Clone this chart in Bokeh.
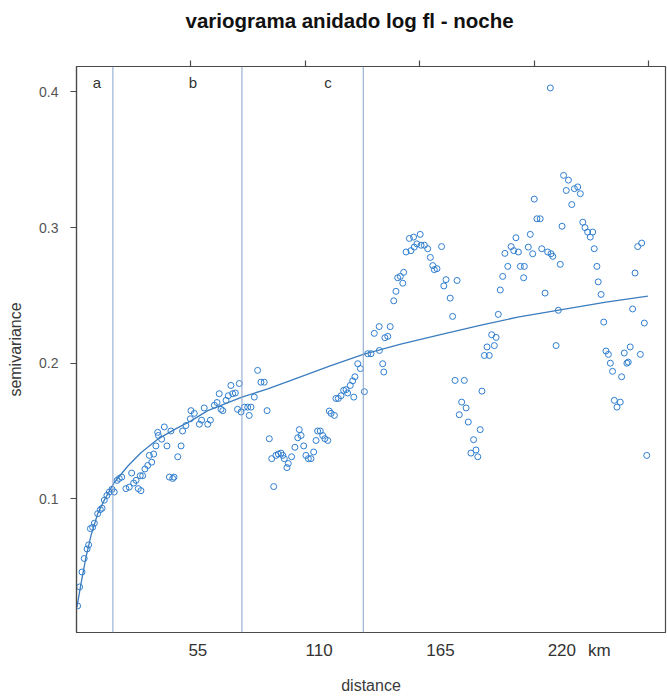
from bokeh.plotting import figure
from bokeh.models import Range1d, LinearAxis, FixedTicker, Span, Label, ColumnDataSource
from bokeh.embed import file_html
from bokeh.resources import INLINE

# empirical semivariogram (distance in km, semivariance)
dist = [0.5, 1.4, 2.5, 3.5, 4.8, 5.5, 6.3, 7.3, 8.1, 9.6, 10.8, 11.6, 12.6, 13.8, 14.9, 16.1, 17.1,
        18.4, 19.4, 20.5, 22.4, 23.9, 25.0, 25.9, 27.0, 28.0, 28.9,
        29.2, 30.0, 31.0, 32.3, 33.0, 34.1, 35.0, 36.0, 36.8, 37.1, 38.6, 39.8, 41.0, 42.1, 43.6, 44.2,
        42.8, 45.9, 47.4, 48.1, 49.6, 51.6, 51.9, 53.4, 55.7, 56.7, 57.9, 59.5, 60.7, 62.5, 63.7, 64.7,
        65.5, 66.3, 67.8, 68.8, 70.0, 70.8, 72.0, 73.0, 73.8, 74.6, 76.1, 77.6, 79.1, 78.3, 80.6, 82.1,
        83.6, 85.1, 86.4,
        87.4, 88.5, 89.4, 90.4, 91.5, 92.7, 93.5, 94.2, 95.4, 96.0, 97.5, 99.0, 100.3, 101.0, 101.8,
        103.0, 104.0, 105.1, 106.3, 107.5, 108.6, 109.3, 110.5, 111.6, 112.6, 113.9, 114.6, 115.4,
        116.9, 117.6, 118.7, 119.9, 121.1, 122.2, 122.9, 124.1, 125.7, 125.2, 126.2, 127.5, 128.7,
        130.5, 132.0, 133.5, 135.0, 137.3, 137.2,
        138.8, 139.3, 139.8, 141.1, 142.2, 143.8, 144.8, 145.6, 146.8, 147.9, 148.3, 149.4, 150.9,
        151.6, 152.8, 153.1, 154.3, 155.8, 156.2, 157.7, 159.2, 160.4, 161.5, 162.2, 163.4, 165.5,
        166.5, 167.5, 169.4, 170.5, 172.5, 171.6, 175.8, 174.6, 176.6, 173.5, 177.6, 180.0, 183.0,
        178.8, 181.1, 181.9, 183.8, 184.9, 187.1, 186.1, 189.4, 188.2, 190.2, 191.2, 192.1, 193.2,
        194.2, 195.5, 197.0, 198.2, 199.2, 200.3, 201.2, 203.0, 202.7, 204.8, 205.7, 206.8, 207.5,
        208.7, 210.2, 210.9, 212.4, 213.6, 215.1, 215.9, 217.4, 218.4, 219.3, 220.1, 214.8, 220.8,
        223.0, 222.0, 225.7, 227.2, 228.4, 224.5, 229.5, 230.5, 231.7, 232.9, 234.0, 234.7, 235.9,
        236.5, 237.8, 239.0, 240.0, 241.1, 242.0, 243.0, 247.1, 248.3, 249.5, 250.1, 251.0, 255.6,
        243.8, 246.5, 245.0, 252.1, 253.2, 254.4, 256.2, 257.4, 258.5]
gamma = [0.021, 0.035, 0.046, 0.056, 0.063, 0.066, 0.078, 0.079, 0.082, 0.089, 0.092, 0.093, 0.099,
         0.1025, 0.105, 0.107, 0.105, 0.1136, 0.115, 0.116, 0.1075, 0.1086, 0.119, 0.1116, 0.1136,
         0.1075, 0.117,
         0.106, 0.117, 0.122, 0.1246, 0.132, 0.127, 0.133, 0.139, 0.149, 0.1467, 0.144, 0.153, 0.139,
         0.116, 0.115, 0.116, 0.150, 0.131, 0.139, 0.150, 0.154, 0.159, 0.165, 0.163, 0.155, 0.158,
         0.167, 0.155, 0.158, 0.169, 0.171, 0.1775, 0.166, 0.165, 0.1726, 0.176, 0.1836, 0.1775,
         0.178, 0.166, 0.185, 0.164, 0.1676, 0.1676, 0.1676, 0.1615, 0.175, 0.1947, 0.186, 0.186, 0.165,
         0.1443, 0.1296, 0.109, 0.132, 0.133, 0.1337, 0.132, 0.1296, 0.123, 0.126, 0.131, 0.138, 0.145,
         0.151, 0.1467, 0.139, 0.132, 0.1296, 0.1296, 0.1345, 0.143, 0.150, 0.150, 0.1467, 0.1443,
         0.143, 0.1647, 0.163, 0.1615, 0.174, 0.174, 0.176, 0.180, 0.1805, 0.178, 0.1836, 0.175, 0.187,
         0.190, 0.1996, 0.196, 0.179, 0.207, 0.207, 0.222, 0.2094, 0.227,
         0.1996, 0.1935, 0.2188, 0.2198, 0.227, 0.246, 0.253, 0.263, 0.264, 0.259, 0.267, 0.282,
         0.292, 0.283, 0.293, 0.2856, 0.288, 0.295, 0.287, 0.287, 0.2844, 0.278, 0.272, 0.269, 0.2697,
         0.286, 0.257, 0.2616, 0.248, 0.2345, 0.261, 0.1873, 0.1873, 0.1713, 0.167, 0.162, 0.1566,
         0.1436, 0.151, 0.1337, 0.136, 0.131, 0.1794, 0.2057, 0.2057, 0.212, 0.213, 0.221, 0.219,
         0.236, 0.254, 0.264, 0.281, 0.2714, 0.286, 0.283, 0.2925, 0.282, 0.2714, 0.2714, 0.263,
         0.2856, 0.295, 0.2807, 0.321, 0.3065, 0.3065, 0.2844, 0.2517, 0.282, 0.2807, 0.2788, 0.213,
         0.239, 0.2729, 0.301, 0.403, 0.3385, 0.335, 0.3274, 0.3287, 0.330, 0.325, 0.317, 0.304,
         0.300, 0.2967, 0.293, 0.2967, 0.2844, 0.2714, 0.260, 0.2507, 0.2303, 0.209, 0.2065, 0.200,
         0.194, 0.190, 0.2075, 0.200, 0.2008, 0.212, 0.2065, 0.1726, 0.1713, 0.1676, 0.240, 0.2665,
         0.286, 0.2886, 0.2296, 0.132]

# fitted nested model
fit_dist = [0.2, 2.0, 4.3, 6.6, 9.6, 12.6, 17.1, 23.2, 29.2, 36.8, 44.3, 51.9, 59.5, 75.0, 86.7,
            100.0, 115.0, 130.0, 147.0, 165.0, 183.4, 200.0, 218.0, 240.0, 259.0]
fit_gamma = [0.020, 0.037, 0.057, 0.073, 0.089, 0.099, 0.112, 0.124, 0.134, 0.144, 0.151, 0.1575,
             0.165, 0.175, 0.181, 0.189, 0.198, 0.2065, 0.214, 0.221, 0.228, 0.234, 0.239, 0.245,
             0.2495]

breaks = [16.5, 75.0, 130.0]
break_names = ["a", "b", "c"]
break_name_x = [9.3, 52.8, 114.0]

bottom_ticks = [55, 110, 165, 220, 237]
bottom_tick_labels = ["55", "110", "165", "220", "km"]
top_ticks = [51.9, 103.7, 155.6, 207.4, 259.3]
y_ticks = [0.1, 0.2, 0.3, 0.4]

title_text = "variograma anidado log fl - noche"
x_label = "distance"
y_label = "semivariance"

PT = "#2f7ecf"
LINE = "#3b7dbf"
VL = "#86a3c9"
AX = "#4a4a4a"
FONT = "Liberation Sans"

p = figure(width=667, height=696, output_backend="svg", toolbar_location=None,
           x_range=Range1d(0, 267.0), y_range=Range1d(0.0014, 0.4188),
           min_border_left=76, min_border_right=2, min_border_top=66, min_border_bottom=64,
           background_fill_color="white", border_fill_color="white")
p.xgrid.visible = False
p.ygrid.visible = False
p.outline_line_color = AX
p.outline_line_width = 1.2

p.title.text = title_text
p.title.align = "left"
p.title.offset = 109
p.title.text_font = FONT
p.title.text_font_size = "20.5px"
p.title.text_font_style = "bold"
p.title.text_color = "#111111"
p.title.standoff = 10

# axes
xa = p.xaxis[0]
xa.ticker = FixedTicker(ticks=bottom_ticks)
xa.major_label_overrides = {t: s for t, s in zip(bottom_ticks, bottom_tick_labels)}
xa.major_tick_out = 0
xa.major_tick_in = 0
xa.minor_tick_line_color = None
xa.axis_line_color = AX
xa.axis_line_width = 1.2
xa.major_label_standoff = 8
xa.major_label_text_font = FONT
xa.major_label_text_font_size = "17px"
xa.major_label_text_color = "#333333"
xa.axis_label = x_label
xa.axis_label_text_font = FONT
xa.axis_label_text_font_style = "normal"
xa.axis_label_text_font_size = "16px"
xa.axis_label_text_color = "#3a3a3a"
xa.axis_label_standoff = 14

ya = p.yaxis[0]
ya.ticker = FixedTicker(ticks=y_ticks)
ya.major_tick_out = 6
ya.major_tick_in = 0
ya.major_tick_line_color = AX
ya.major_tick_line_width = 1.2
ya.minor_tick_line_color = None
ya.axis_line_color = AX
ya.axis_line_width = 1.2
ya.major_label_standoff = 12
ya.major_label_text_font = FONT
ya.major_label_text_font_size = "14px"
ya.major_label_text_color = "#555555"
ya.axis_label = y_label
ya.axis_label_text_font = FONT
ya.axis_label_text_font_style = "normal"
ya.axis_label_text_font_size = "16px"
ya.axis_label_text_color = "#3a3a3a"
ya.axis_label_standoff = 12

top = LinearAxis(ticker=FixedTicker(ticks=top_ticks))
top.major_label_overrides = {t: " " for t in top_ticks}
top.major_tick_out = 6
top.major_tick_in = 0
top.major_tick_line_color = AX
top.major_tick_line_width = 1.2
top.minor_tick_line_color = None
top.axis_line_color = AX
top.axis_line_width = 1.2
top.major_label_text_font_size = "14px"
top.major_label_standoff = 5
p.add_layout(top, "above")

# vertical break lines
for b in breaks:
    p.add_layout(Span(location=b, dimension="height", line_color=VL, line_width=1))

src = ColumnDataSource(dict(x=dist, y=gamma))
p.scatter("x", "y", source=src, marker="circle", size=6, fill_color=None,
          line_color=PT, line_width=1)
p.line(fit_dist, fit_gamma, line_color=LINE, line_width=1.3)

for nx, nm in zip(break_name_x, break_names):
    p.add_layout(Label(x=nx, y=0.407, text=nm, text_align="center", text_baseline="middle",
                       text_font=FONT, text_font_size="15px", text_color="#333333"))

open("out.html", "w").write(file_html(p, INLINE))
